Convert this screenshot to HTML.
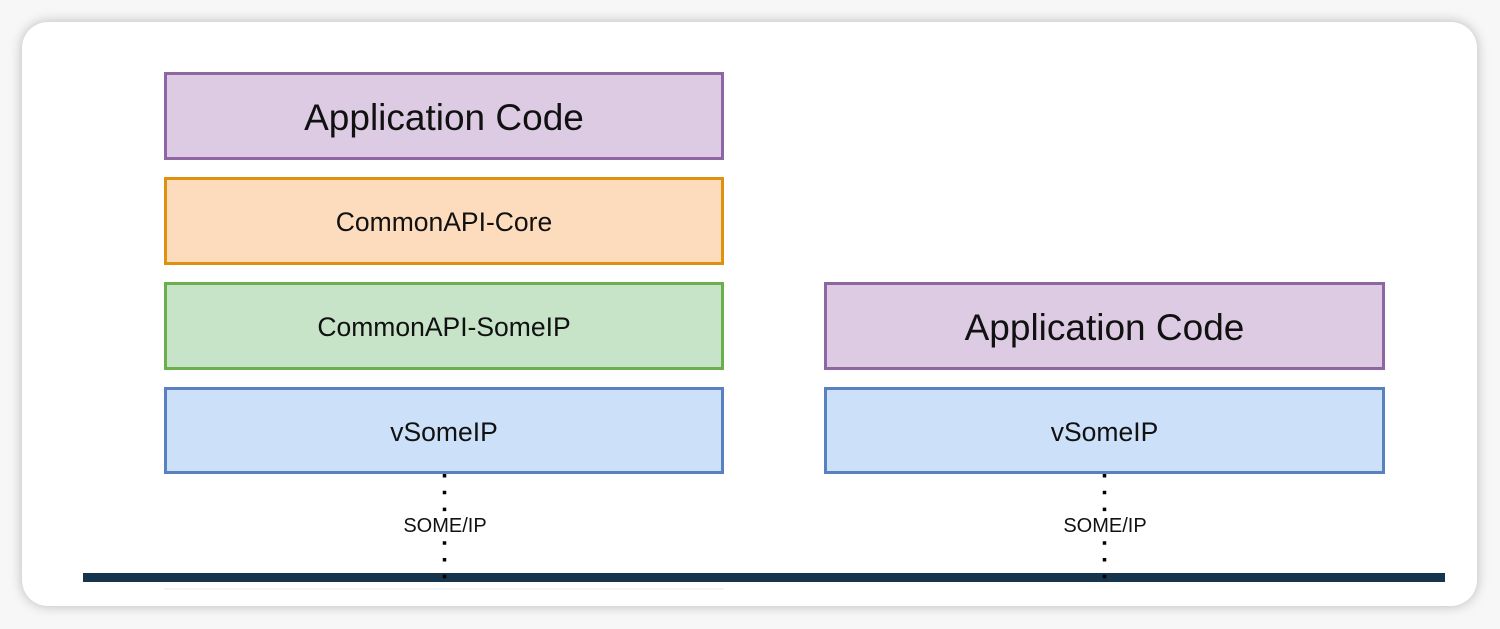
<!DOCTYPE html>
<html><head><style>
body{margin:0;width:1500px;height:629px;background:#f7f7f7;position:relative;font-family:"Liberation Sans",Arial,sans-serif;overflow:hidden}
.card{position:absolute;left:22px;top:22px;width:1455px;height:584px;background:#fff;border-radius:26px;box-shadow:0 0 12px rgba(0,0,0,.25)}
.b{position:absolute;box-sizing:border-box;border:3px solid;display:flex;align-items:center;justify-content:center;color:#111;padding-top:3px}
.app{background:#dccbe3;border-color:#9065a3;font-size:37px}
.core{background:#fddcbd;border-color:#df9010;font-size:26.5px}
.sip{background:#c7e3c8;border-color:#6aae4e;font-size:26.5px}
.vs{background:#cce0f9;border-color:#5881bf;font-size:26.5px}
.lbl{position:absolute;font-size:20px;color:#111;background:#fff;width:120px;text-align:center;line-height:22px}
</style></head><body>
<div class="card"></div>
<div class="b app" style="left:164px;top:72px;width:560px;height:88px">Application Code</div>
<div class="b core" style="left:164px;top:177px;width:560px;height:88px">CommonAPI-Core</div>
<div class="b sip" style="left:164px;top:282px;width:560px;height:88px">CommonAPI-SomeIP</div>
<div class="b vs" style="left:164px;top:387px;width:560px;height:87px">vSomeIP</div>
<div class="b app" style="left:824px;top:282px;width:561px;height:88px">Application Code</div>
<div class="b vs" style="left:824px;top:387px;width:561px;height:87px">vSomeIP</div>
<div style="position:absolute;left:83px;top:573px;width:1362px;height:9px;background:#17344d"></div>
<svg style="position:absolute;left:0;top:0" width="1500" height="629">
<line x1="444.5" y1="474" x2="444.5" y2="580" stroke="#000" stroke-width="3.5" stroke-dasharray="3.5 13.3"/>
<line x1="1104.5" y1="474" x2="1104.5" y2="580" stroke="#000" stroke-width="3.5" stroke-dasharray="3.5 13.3"/>
</svg>
<div class="lbl" style="left:385px;top:515px;">SOME/IP</div>
<div class="lbl" style="left:1045px;top:515px;">SOME/IP</div>
<div style="position:absolute;left:164px;top:588px;width:560px;height:2px;background:#f4f4f4"></div>
</body></html>
